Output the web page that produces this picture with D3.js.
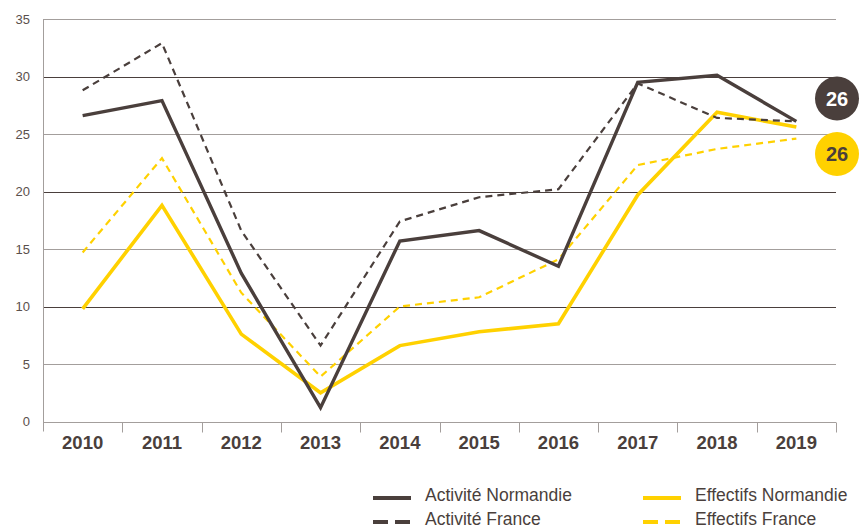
<!DOCTYPE html>
<html>
<head>
<meta charset="utf-8">
<script src="https://cdn.jsdelivr.net/npm/d3@7"></script>
<style>
  body { margin: 0; background: #fff; }
  svg { display: block; font-family: "Liberation Sans", Arial, sans-serif; }
</style>
</head>
<body>
<div id="chart"></div>
<script>
// data
var years = [2010, 2011, 2012, 2013, 2014, 2015, 2016, 2017, 2018, 2019];
var activiteNormandie = [26.6, 27.9, 12.9, 1.2, 15.7, 16.6, 13.5, 29.5, 30.1, 26.1];
var activiteFrance = [28.8, 32.9, 16.6, 6.6, 17.4, 19.5, 20.2, 29.4, 26.4, 26.1];
var effectifsNormandie = [9.8, 18.8, 7.6, 2.5, 6.6, 7.8, 8.5, 19.7, 26.9, 25.6];
var effectifsFrance = [14.7, 22.9, 11.2, 3.9, 10.0, 10.8, 14.1, 22.3, 23.7, 24.6];
var yTicks = [0, 5, 10, 15, 20, 25, 30, 35];
var badgeLabels = ["26", "26"];

var dark = "#4a3f3c", grey = "#a39e9c", yellow = "#ffd100";

var width = 861, height = 530;
var svg = d3.select("#chart").append("svg").attr("width", width).attr("height", height);

var x = d3.scaleBand().domain(years).range([43, 836]).padding(0);
var y = d3.scaleLinear().domain([0, 35]).range([421.5, 19]);

// grid lines, alternating dark / grey
svg.append("g").selectAll("line").data(yTicks.slice(1)).join("line")
    .attr("x1", 43).attr("x2", 836)
    .attr("y1", function (d) { return Math.round(y(d)) + 0.5; })
    .attr("y2", function (d) { return Math.round(y(d)) + 0.5; })
    .attr("stroke", function (d) { return d % 10 == 0 ? dark : grey; })
    .attr("stroke-width", 1);

// y axis labels
var yAxis = svg.append("g").attr("transform", "translate(43,0)")
    .call(d3.axisLeft(y).tickValues(yTicks).tickSize(0).tickPadding(13));
yAxis.select(".domain").remove();
yAxis.selectAll("text").attr("font-size", 13).attr("fill", "#5a504c")
    .attr("font-family", "Liberation Sans, Arial, sans-serif");

// left axis line
svg.append("line").attr("x1", 43.5).attr("x2", 43.5).attr("y1", y(35)).attr("y2", y(0) + 10)
    .attr("stroke", grey).attr("stroke-width", 1);

// baseline + boundary ticks
var y0 = Math.round(y(0)) + 0.5;
svg.append("line").attr("x1", 43).attr("x2", 836).attr("y1", y0).attr("y2", y0)
    .attr("stroke", grey).attr("stroke-width", 1);
var bounds = years.map(function (d) { return x(d); }).concat([x(years[years.length - 1]) + x.bandwidth()]);
svg.append("g").selectAll("line").data(bounds.slice(1)).join("line")
    .attr("x1", function (d) { return Math.round(d) + 0.5; })
    .attr("x2", function (d) { return Math.round(d) + 0.5; })
    .attr("y1", y0).attr("y2", y0 + 10)
    .attr("stroke", grey).attr("stroke-width", 1);

// x axis labels
var xAxis = svg.append("g").attr("transform", "translate(0," + y(0) + ")")
    .call(d3.axisBottom(x).tickSize(0).tickPadding(14));
xAxis.select(".domain").remove();
xAxis.selectAll("text").attr("font-size", 18.5).attr("font-weight", "bold").attr("fill", dark)
    .attr("font-family", "Liberation Sans, Arial, sans-serif");

// series lines
var series = [
    { name: "Effectifs France", values: effectifsFrance, color: yellow, width: 2.2, dash: "7,5" },
    { name: "Effectifs Normandie", values: effectifsNormandie, color: yellow, width: 3.6, dash: null },
    { name: "Activité France", values: activiteFrance, color: dark, width: 2.2, dash: "7,5" },
    { name: "Activité Normandie", values: activiteNormandie, color: dark, width: 3.4, dash: null }
];
var line = d3.line()
    .x(function (d, i) { return x(years[i]) + x.bandwidth() / 2; })
    .y(function (d) { return y(d); });
svg.append("g").selectAll("path").data(series).join("path")
    .attr("d", function (s) { return line(s.values); })
    .attr("fill", "none")
    .attr("stroke", function (s) { return s.color; })
    .attr("stroke-width", function (s) { return s.width; })
    .attr("stroke-dasharray", function (s) { return s.dash; })
    .attr("stroke-linejoin", "miter");

// end badges
var badges = [
    { label: badgeLabels[0], fill: dark, text: "#fff", cy: 98.5 },
    { label: badgeLabels[1], fill: yellow, text: dark, cy: 154 }
];
var bx = x(years[years.length - 1]) + x.bandwidth() + 1;
var bg = svg.append("g").selectAll("g").data(badges).join("g")
    .attr("transform", function (d) { return "translate(" + bx + "," + d.cy + ")"; });
bg.append("circle").attr("r", 22).attr("fill", function (d) { return d.fill; });
bg.append("text").text(function (d) { return d.label; })
    .attr("text-anchor", "middle").attr("dy", "0.36em")
    .attr("font-size", 20).attr("font-weight", "bold")
    .attr("fill", function (d) { return d.text; });

// legend
var legendItems = [
    { name: "Activité Normandie", color: dark, dash: null, lx: 373, ly: 498 },
    { name: "Activité France", color: dark, dash: "15,7", lx: 373, ly: 522 },
    { name: "Effectifs Normandie", color: yellow, dash: null, lx: 643, ly: 498 },
    { name: "Effectifs France", color: yellow, dash: "15,7", lx: 643, ly: 522 }
];
var lg = svg.append("g").selectAll("g").data(legendItems).join("g")
    .attr("transform", function (d) { return "translate(" + d.lx + "," + d.ly + ")"; });
lg.append("line").attr("x1", 0).attr("x2", 38).attr("y1", 0).attr("y2", 0)
    .attr("stroke", function (d) { return d.color; })
    .attr("stroke-width", 4)
    .attr("stroke-dasharray", function (d) { return d.dash; });
lg.append("text").text(function (d) { return d.name; })
    .attr("x", 52).attr("y", 3)
    .attr("font-size", 17.5).attr("fill", dark);
</script>
</body>
</html>
